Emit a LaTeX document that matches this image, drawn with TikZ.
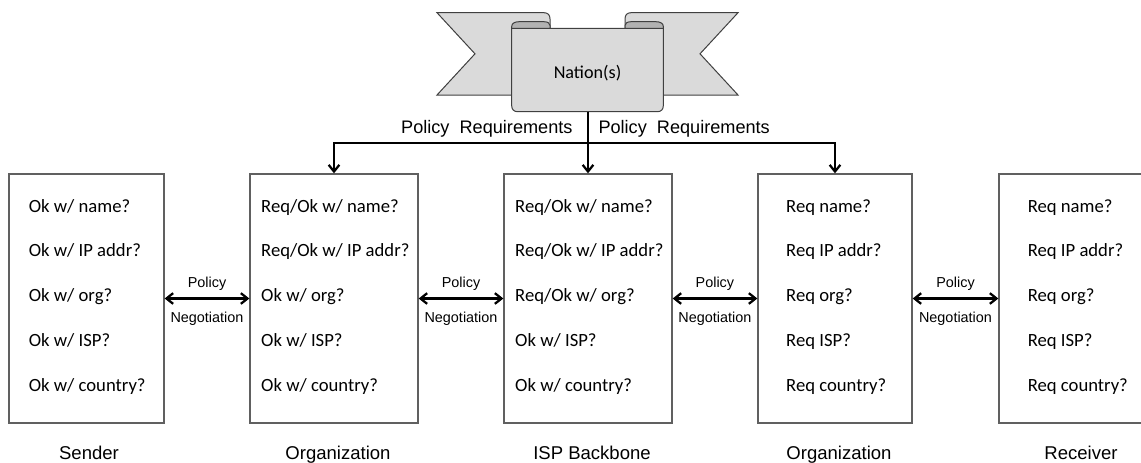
\documentclass[tikz,border=0pt]{standalone}
\usepackage{fontspec}
\setmainfont{Liberation Sans}
\newfontfamily\calibri{Carlito}
\usetikzlibrary{arrows.meta}
\definecolor{ribbonfill}{RGB}{218,218,218}
\definecolor{ribbonfold}{RGB}{178,178,178}
\definecolor{ribbonline}{RGB}{64,64,64}
\definecolor{boxline}{RGB}{96,96,96}

\tikzset{every picture/.style={line width=0.75pt}}
\tikzset{
  infobox/.style={draw=boxline, line width=1pt, inner sep=0pt, minimum height=186.75pt},
  asktext/.style={font=\calibri\fontsize{14pt}{16pt}\selectfont, anchor=base west, inner sep=0pt},
  neglabel/.style={font=\fontsize{10.8pt}{12pt}\selectfont, anchor=base, inner sep=0pt},
  rolename/.style={font=\fontsize{13.9pt}{16pt}\selectfont, anchor=base, inner sep=0pt},
  reqlabel/.style={font=\fontsize{13.6pt}{16pt}\selectfont, inner sep=0pt},
  negarrow/.style={line width=1.7pt, {Straight Barb[length=5pt,width=8pt]}-{Straight Barb[length=5pt,width=8pt]}},
  reqarrow/.style={line width=1.7pt, -{Straight Barb[length=5pt,width=8pt]}},
}

\begin{document}
\begin{tikzpicture}[x=0.75pt,y=0.75pt,yscale=-1,xscale=1]
\useasboundingbox (0,0) rectangle (1141,462);
\clip (0,0) rectangle (1141,462);

%Shape: Ribbon tails
\draw [draw=ribbonline, fill=ribbonfill] (437,12.7) -- (544,12.7) .. controls (548,12.7) and (550,15) .. (550,19) -- (550,95) -- (437,95) -- (475,53.8) -- cycle ;
\draw [draw=ribbonline, fill=ribbonfill] (738,12.7) -- (631,12.7) .. controls (627,12.7) and (625,15) .. (625,19) -- (625,95) -- (738,95) -- (700,53.8) -- cycle ;
%Shape: Ribbon front
\draw [draw=ribbonline, fill=ribbonfill] (511.7,28.3) -- (511.7,105.7) .. controls (511.7,109.5) and (514,111.7) .. (517.7,111.7) -- (657.3,111.7) .. controls (661,111.7) and (663.3,109.5) .. (663.3,105.7) -- (663.3,28.3) -- cycle ;
%Shape: Ribbon folds
\draw [draw=ribbonline, fill=ribbonfold] (511.7,28.3) -- (511.7,26.5) .. controls (511.7,23.5) and (514.5,21.7) .. (519,21.7) -- (544,21.7) .. controls (548,21.7) and (550,23.5) .. (550,25.5) -- (550,28.3) -- cycle ;
\draw [draw=ribbonline, fill=ribbonfold] (663.3,28.3) -- (663.3,26.5) .. controls (663.3,23.5) and (660.5,21.7) .. (656,21.7) -- (631,21.7) .. controls (627,21.7) and (625,23.5) .. (625,25.5) -- (625,28.3) -- cycle ;
\node [font=\calibri\fontsize{13.6pt}{16pt}\selectfont] (nation) at (587.5,72.7) {Nation(s)};

%Shape: Rectangles
\node [infobox, minimum width=116.25pt] (sender) at (86.5,298.5) {};
\node [infobox, minimum width=126pt] (orgsend) at (334,298.5) {};
\node [infobox, minimum width=126pt] (isp) at (588,298.5) {};
\node [infobox, minimum width=115.5pt] (orgrecv) at (835,298.5) {};
\node [infobox, minimum width=123pt] (receiver) at (1081,298.5) {};

%Text: Sender
\node [asktext] (sndname) at (28.3,212.3) {Ok w/ name?};
\node [asktext] (sndip) at (28.3,256.7) {Ok w/ IP addr?};
\node [asktext] (sndorg) at (28.3,301.7) {Ok w/ org?};
\node [asktext] (sndisp) at (28.3,346.7) {Ok w/ ISP?};
\node [asktext] (sndcty) at (28.3,391.7) {Ok w/ country?};
%Text: Organization (sender side)
\node [asktext] (osname) at (260.7,212.3) {Req/Ok w/ name?};
\node [asktext] (osip) at (260.7,256.7) {Req/Ok w/ IP addr?};
\node [asktext] (osorg) at (260.7,301.7) {Ok w/ org?};
\node [asktext] (osisp) at (260.7,346.7) {Ok w/ ISP?};
\node [asktext] (oscty) at (260.7,391.7) {Ok w/ country?};
%Text: ISP Backbone
\node [asktext] (ipname) at (514.7,212.3) {Req/Ok w/ name?};
\node [asktext] (ipip) at (514.7,256.7) {Req/Ok w/ IP addr?};
\node [asktext] (iporg) at (514.7,301.7) {Req/Ok w/ org?};
\node [asktext] (ipisp) at (514.7,346.7) {Ok w/ ISP?};
\node [asktext] (ipcty) at (514.7,391.7) {Ok w/ country?};
%Text: Organization (receiver side)
\node [asktext] (orname) at (785.7,212.3) {Req name?};
\node [asktext] (orip) at (785.7,256.7) {Req IP addr?};
\node [asktext] (ororg) at (785.7,301.7) {Req org?};
\node [asktext] (orisp) at (785.7,346.7) {Req ISP?};
\node [asktext] (orcty) at (785.7,391.7) {Req country?};
%Text: Receiver
\node [asktext] (rcvname) at (1027.3,212.3) {Req name?};
\node [asktext] (rcvip) at (1027.3,256.7) {Req IP addr?};
\node [asktext] (rcvorg) at (1027.3,301.7) {Req org?};
\node [asktext] (rcvisp) at (1027.3,346.7) {Req ISP?};
\node [asktext] (rcvcty) at (1027.3,391.7) {Req country?};

%Straight Lines: negotiation
\draw [negarrow] (sender.east) -- (orgsend.west) ;
\draw [negarrow] (orgsend.east) -- (isp.west) ;
\draw [negarrow] (isp.east) -- (orgrecv.west) ;
\draw [negarrow] (orgrecv.east) -- (receiver.west) ;
\node [neglabel] (pol1) at (207,287.3) {Policy};
\node [neglabel] (neg1) at (207,322.7) {Negotiation};
\node [neglabel] (pol2) at (461,287.3) {Policy};
\node [neglabel] (neg2) at (461,322.7) {Negotiation};
\node [neglabel] (pol3) at (714.9,287.3) {Policy};
\node [neglabel] (neg3) at (714.9,322.7) {Negotiation};
\node [neglabel] (pol4) at (955.5,287.3) {Policy};
\node [neglabel] (neg4) at (955.5,322.7) {Negotiation};

%Straight Lines: requirements
\coordinate (ribbonbase) at (588,111.7);
\coordinate (split) at (588,143.3);
\draw [reqarrow] (ribbonbase) -- (isp.north) ;
\draw [reqarrow] (split) -| (orgsend.north) ;
\draw [reqarrow] (split) -| (orgrecv.north) ;
\node [reqlabel, anchor=base east] (reqleft) at (573,133.5) {Policy\ \ Requirements};
\node [reqlabel, anchor=base west] (reqright) at (598,133.5) {Policy\ \ Requirements};

%Text: roles
\node [rolename] (sendername) at (89,459.5) {Sender};
\node [rolename] (orgsendname) at (338,459.5) {Organization};
\node [rolename] (ispname) at (592,459.5) {ISP Backbone};
\node [rolename] (orgrecvname) at (839,459.5) {Organization};
\node [rolename] (receivername) at (1081,459.5) {Receiver};

\end{tikzpicture}
\end{document}
